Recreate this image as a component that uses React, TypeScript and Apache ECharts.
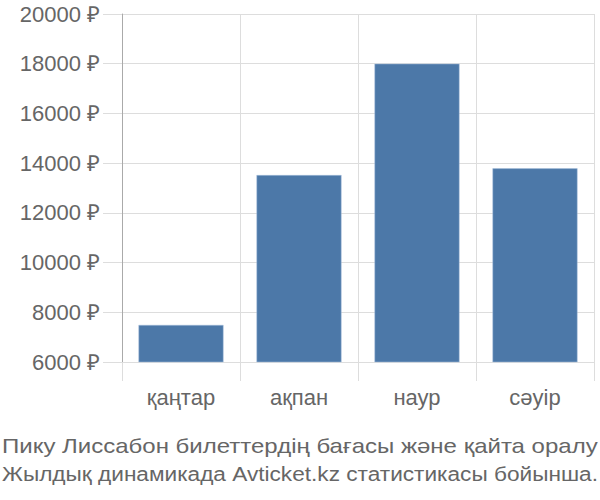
import React, { useEffect, useRef } from "react";
import * as echarts from "echarts";

const categories = ["қаңтар", "ақпан", "наур", "сәуір"];
const prices = [7490, 13520, 18000, 13790];
const yMin = 6000;
const yMax = 20000;
const yStep = 2000;
const titleLines = [
  "Пику Лиссабон билеттердің бағасы және қайта оралу",
  "Жылдық динамикада Avticket.kz статистикасы бойынша.",
];

const FONT = "Liberation Sans, Arial, sans-serif";

function measure(text: string, size: number): number {
  const c = document.createElement("canvas").getContext("2d");
  if (!c) return text.length * size * 0.5;
  c.font = `${size}px ${FONT}`;
  return c.measureText(text).width;
}

export default function App() {
  const ref = useRef<HTMLDivElement>(null);
  useEffect(() => {
    if (!ref.current) return;
    const chart = echarts.init(ref.current, undefined, { renderer: "svg" });
    const titleSize = 21;
    const targetWidth = 596;
    const titleGraphics = titleLines.map((t, i) => {
      const w = measure(t, titleSize);
      return {
        type: "text",
        x: 2,
        y: 446 + i * 28,
        scaleX: targetWidth / w,
        style: {
          text: t,
          fill: "#666666",
          fontSize: titleSize,
          fontFamily: FONT,
          verticalAlign: "middle",
          align: "left",
        },
      };
    });
    chart.setOption({
      animation: false,
      textStyle: { fontFamily: FONT },
      grid: { left: 122, right: 6, top: 14, bottom: 138, containLabel: false },
      xAxis: {
        type: "category",
        data: categories,
        axisLine: { show: false },
        axisTick: { show: true, length: 19, lineStyle: { color: "#dddddd", width: 1 } },
        splitLine: { show: true, lineStyle: { color: "#dddddd", width: 1 } },
        axisLabel: { color: "#666666", fontSize: 22, margin: 24, fontFamily: FONT },
      },
      yAxis: {
        type: "value",
        min: yMin,
        max: yMax,
        interval: yStep,
        axisLine: { show: true, lineStyle: { color: "#aaaaaa", width: 1 } },
        axisTick: { show: true, length: 19, lineStyle: { color: "#dddddd", width: 1 } },
        splitLine: { show: true, lineStyle: { color: "#dddddd", width: 1 } },
        axisLabel: {
          color: "#666666",
          fontSize: 22,
          margin: 22,
          fontFamily: FONT,
          formatter: (v: number) => `${v} ₽`,
        },
      },
      series: [
        {
          type: "bar",
          data: prices,
          barWidth: 85,
          itemStyle: { color: "#4c78a8", borderColor: "#a9c1de", borderWidth: 0.5 },
        },
      ],
      graphic: [
        {
          type: "line",
          shape: { x1: 122.5, y1: 362, x2: 122.5, y2: 381 },
          style: { stroke: "#aaaaaa", lineWidth: 1 },
        },
        ...titleGraphics,
      ],
    });
    return () => chart.dispose();
  }, []);
  return <div ref={ref} style={{ width: 600, height: 500, position: "absolute", left: 0, top: 0 }} />;
}
